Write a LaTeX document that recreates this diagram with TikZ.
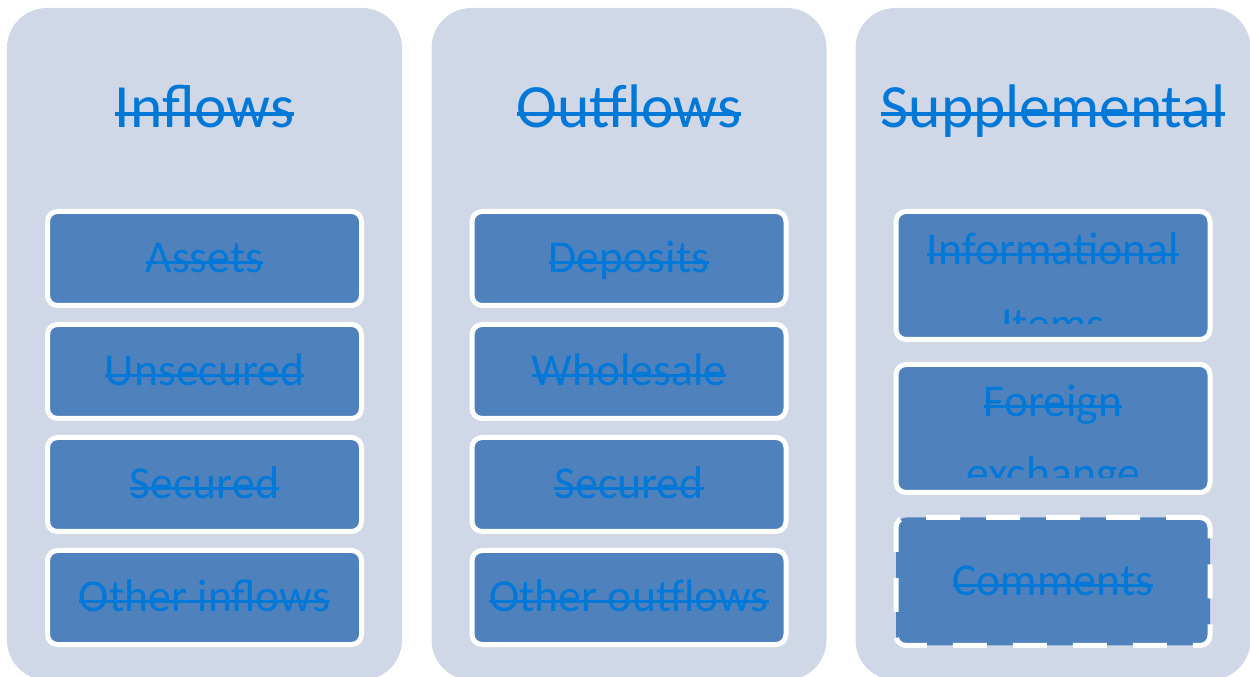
\documentclass[tikz,border=0pt]{standalone}
\usepackage{fontspec}
\setmainfont{Carlito}
\usetikzlibrary{positioning}
\definecolor{panelgray}{RGB}{208, 216, 232}
\definecolor{itemblue}{RGB}{79, 129, 189}
\definecolor{textblue}{RGB}{0, 120, 215}
% struck-through text, drawn with a rule across the word
\newcommand{\strike}[1]{\leavevmode\setbox0=\hbox{#1}\rlap{\rule[0.19em]{\wd0}{0.065em}}\box0}

\begin{document}
\begin{tikzpicture}[
  panel/.style={
    fill=panelgray,
    rounded corners=0.8cm,
    minimum width=7.9cm,
    minimum height=13.44cm,
    inner sep=0pt,
  },
  paneltitle/.style={
    anchor=base,
    text=textblue,
    font=\fontsize{35}{42}\selectfont,
  },
  itembox/.style={
    draw=white,
    line width=0.1cm,
    fill=itemblue,
    rounded corners=0.2cm,
    minimum width=6.28cm,
    minimum height=1.88cm,
    inner sep=0pt,
    outer sep=0pt,
    text=textblue,
    text height=0.56cm,
    text depth=0pt,
    font=\fontsize{26}{31}\selectfont,
  },
  tallbox/.style={
    itembox,
    minimum height=2.56cm,
  },
  commentbox/.style={
    tallbox,
    dash pattern=on 0.68cm off 0.52cm,
  },
  boxline/.style={
    anchor=base,
    inner sep=0pt,
    text=textblue,
    font=\fontsize{26}{31}\selectfont,
  }
]
  \useasboundingbox (0, 0) rectangle (25, 13.54);

  % === PANELS ===
  \node[panel] (in-panel) at (4.09, 6.66) {};
  \node[panel] (out-panel) at (12.58, 6.66) {};
  \node[panel] (sup-panel) at (21.06, 6.66) {};

  \node[paneltitle] (in-title) at (4.09, 10.98) {\strike{Inflows}};
  \node[paneltitle] (out-title) at (12.58, 10.98) {\strike{Outflows}};
  \node[paneltitle] (sup-title) at (21.06, 10.98) {\strike{Supplemental}};

  % INFLOWS (left)
  \node[itembox] (in-1) at (4.09, 8.37) {\strike{Assets}};
  \node[itembox, below=0.38cm of in-1] (in-2) {\strike{Unsecured}};
  \node[itembox, below=0.38cm of in-2] (in-3) {\strike{Secured}};
  \node[itembox, below=0.38cm of in-3] (in-4) {\strike{Other inflows}};

  % OUTFLOWS (center)
  \node[itembox] (out-1) at (12.58, 8.37) {\strike{Deposits}};
  \node[itembox, below=0.38cm of out-1] (out-2) {\strike{Wholesale}};
  \node[itembox, below=0.38cm of out-2] (out-3) {\strike{Secured}};
  \node[itembox, below=0.38cm of out-3] (out-4) {\strike{Other outflows}};

  % SUPPLEMENTAL (right)
  \node[tallbox] (sup-1) at (21.06, 8.03) {};
  \node[tallbox, below=0.5cm of sup-1] (sup-2) {};
  \node[commentbox, below=0.5cm of sup-2] (sup-3) {\strike{Comments}};

  % text cut off at the foot of the boxes
  \begin{scope}
    \clip ([yshift=0.32cm]sup-1.south west) rectangle (sup-1.north east);
    \node[boxline] (sup-1a) at ([yshift=0.21cm]sup-1.center) {\strike{Informational}};
    \node[boxline] (sup-1b) at ([yshift=-1.49cm]sup-1a.base) {Items};
  \end{scope}
  \begin{scope}
    \clip ([yshift=0.29cm]sup-2.south west) rectangle (sup-2.north east);
    \node[boxline] (sup-2a) at ([yshift=0.23cm]sup-2.center) {\strike{Foreign}};
    \node[boxline] (sup-2b) at ([yshift=-1.44cm]sup-2a.base) {exchange};
  \end{scope}

\end{tikzpicture}
\end{document}
